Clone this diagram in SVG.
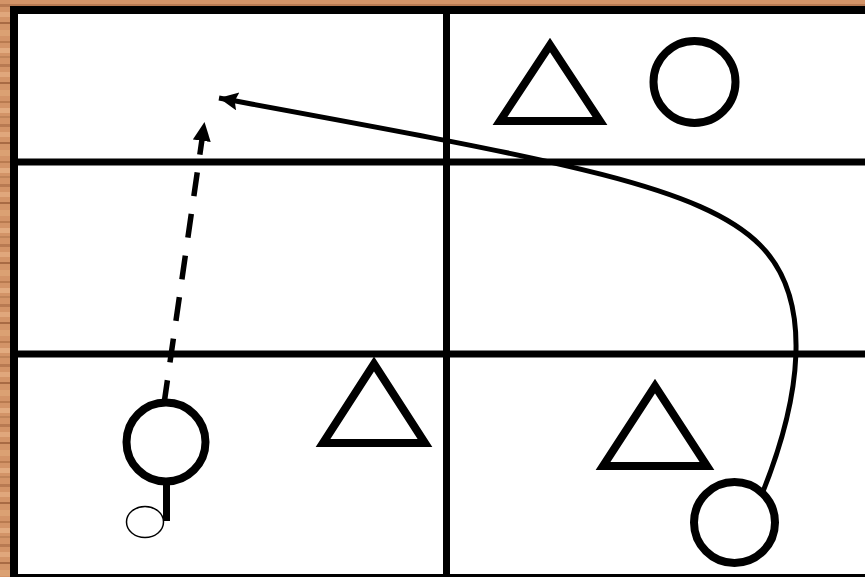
<svg xmlns="http://www.w3.org/2000/svg" width="865" height="577" viewBox="0 0 865 577">
<defs>
<pattern id="wood" patternUnits="userSpaceOnUse" width="865" height="60">
<rect width="865" height="60" fill="#d39468"/>
<rect y="4" width="865" height="3" fill="#b87a52"/>
<rect y="12" width="865" height="5" fill="#e0a77c"/>
<rect y="22" width="865" height="2" fill="#a86a44"/>
<rect y="30" width="865" height="6" fill="#dba173"/>
<rect y="41" width="865" height="2" fill="#b97b50"/>
<rect y="48" width="865" height="5" fill="#e2ab80"/>
<rect y="56" width="865" height="2" fill="#c0845a"/>
</pattern>
<marker id="ah" markerUnits="userSpaceOnUse" markerWidth="24" markerHeight="24" refX="19" refY="9" orient="auto">
<path d="M0,0 L19,9 L0,18 L3,9 Z" fill="#000"/>
</marker>
<marker id="ah2" markerUnits="userSpaceOnUse" markerWidth="24" markerHeight="24" refX="19" refY="9" orient="auto">
<path d="M0,0 L19,9 L0,18 Z" fill="#000"/>
</marker>
<style>
.grid{stroke:#000;stroke-width:7;fill:none}
.shape{stroke:#000;stroke-width:8;fill:#fff}
.ring{stroke:#000;stroke-width:8;fill:#fff}
.conn{stroke:#000;fill:none}
</style>
</defs>
<rect width="865" height="577" fill="url(#wood)"/>
<g id="field">
<rect x="14" y="10" width="870" height="568" fill="#fff" stroke="#000" stroke-width="8"/>
<line class="grid" x1="14" y1="162" x2="865" y2="162"/>
<line class="grid" x1="14" y1="354" x2="865" y2="354"/>
<line class="grid" x1="446.5" y1="10" x2="446.5" y2="577"/>
</g>
<g id="connectors">
<path class="conn" d="M164,404 L204.5,122" stroke-width="5.5" stroke-dasharray="24 18" marker-end="url(#ah2)"/>
<path class="conn" d="M762,494 C800,400 815,300 760,245 C700,185 555,160 219,98" stroke-width="5" marker-end="url(#ah)"/>
</g>
<g id="tri-top"><polygon class="shape" points="500,121 600,121 550,45"/></g>
<g id="circle-top"><circle class="ring" cx="694.5" cy="82" r="41"/></g>
<g id="tri-bl"><polygon class="shape" points="323,443 425,443 374,364"/></g>
<g id="tri-br"><polygon class="shape" points="603,466 707,466 655,386"/></g>
<g id="player-bl">
<line x1="166.5" y1="480" x2="166.5" y2="521" stroke="#000" stroke-width="7"/>
<ellipse cx="145" cy="522" rx="18.5" ry="15.5" fill="#fff" stroke="#000" stroke-width="1.5"/>
<circle class="ring" cx="166" cy="442" r="39.5"/>
</g>
<g id="circle-br"><circle class="ring" cx="734.5" cy="522.5" r="40.5"/></g>
</svg>
